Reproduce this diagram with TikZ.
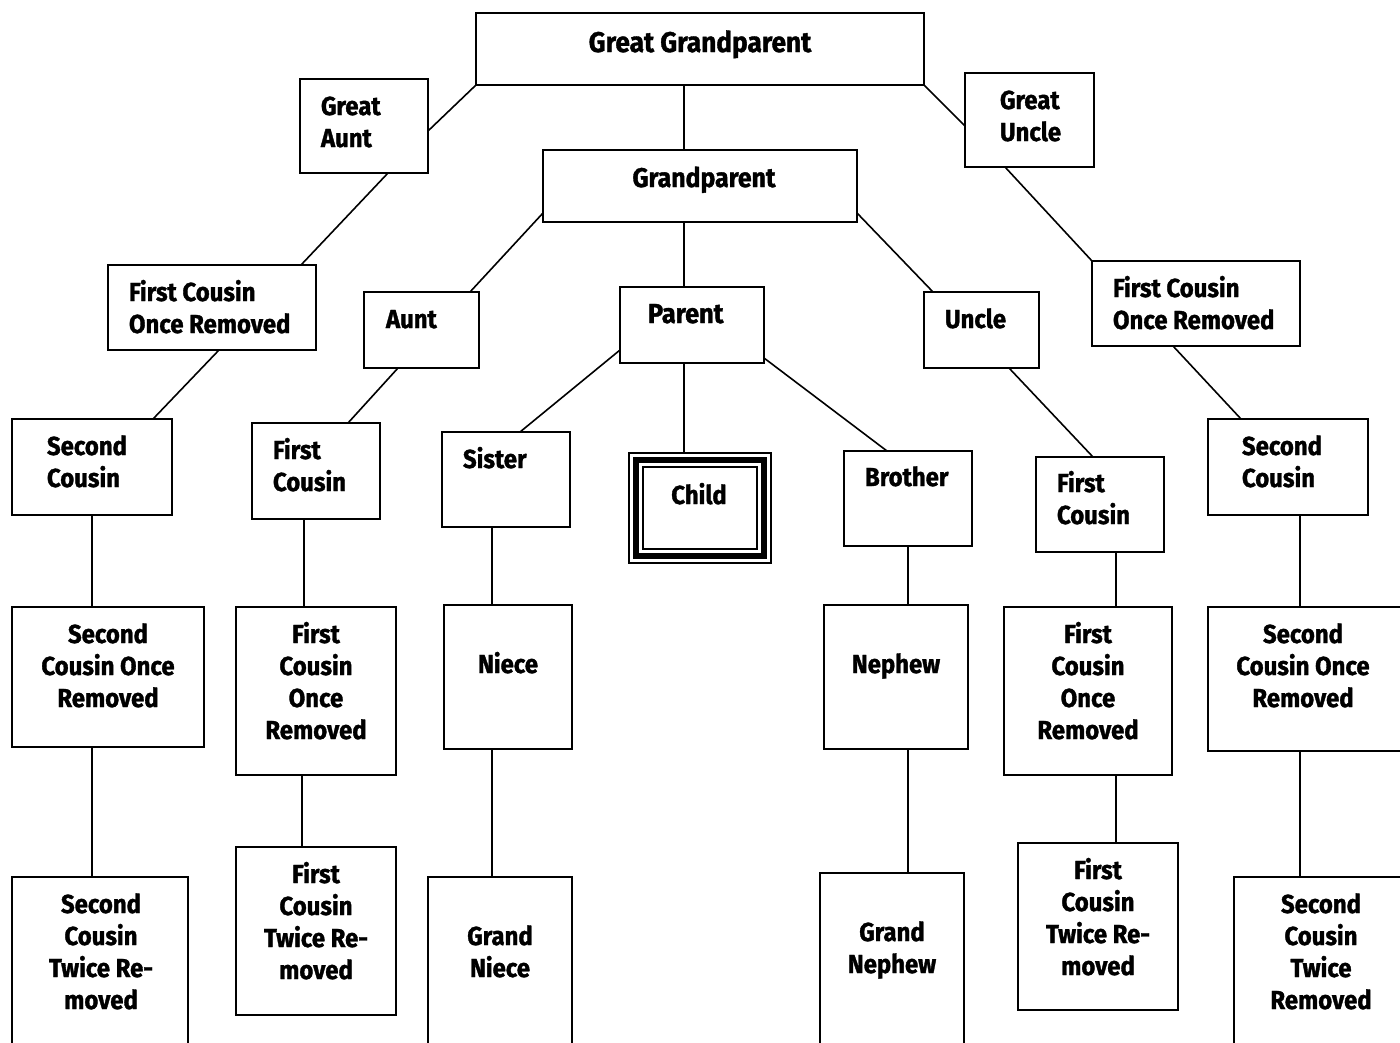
\documentclass[tikz,border=0pt]{standalone}
\usepackage{fontspec}
\setmainfont{Fira Sans}[FakeStretch=0.92, BoldFeatures={FakeBold=1.3}]
\usetikzlibrary{calc}
\newcommand\mytc[1]{\begin{tabular}[t]{@{}c@{}}#1\end{tabular}}
\newcommand\mytl[1]{\begin{tabular}[t]{@{}l@{}}#1\end{tabular}}
\tikzset{
  boxline/.style={line width=2pt},
  conn/.style={line width=1.6pt},
  txt/.style={font=\bfseries\fontsize{26}{32}\selectfont, inner sep=0pt, outer sep=0pt},
  ctxt/.style={txt, anchor=base},
  ltxt/.style={txt, anchor=base west},
}
% box: name, left, top, right, bottom
\newcommand\mybox[5]{\node[boxline, draw, rectangle, anchor=north west, inner sep=0pt, outer sep=0pt,
  minimum width={(#4-#2)*1pt}, minimum height={(#5-#3)*1pt}] (#1) at (#2,#3) {};}
\begin{document}
\begin{tikzpicture}[x=1pt,y=-1pt]
\fill[white] (0,0) rectangle (1400,1042);
\clip (0,0) rectangle (1400,1042);
% boxes
\mybox{gg}{476}{13}{924}{85}
\mybox{ga}{300}{79}{428}{173}
\mybox{gu}{965}{73}{1094}{167}
\mybox{gp}{543}{150}{857}{222}
\mybox{fcl}{108}{265}{316}{350}
\mybox{aunt}{364}{292}{479}{368}
\mybox{par}{620}{287}{764}{363}
\mybox{unc}{924}{292}{1039}{368}
\mybox{fcr}{1092}{261}{1300}{346}
\mybox{scl}{12}{419}{172}{515}
\mybox{fcL}{252}{423}{380}{519}
\mybox{sis}{442}{432}{570}{527}
\mybox{bro}{844}{451}{972}{546}
\mybox{fcR}{1036}{457}{1164}{552}
\mybox{scr}{1208}{419}{1368}{515}
\mybox{scol}{12}{607}{204}{747}
\mybox{fcol}{236}{607}{396}{775}
\mybox{niece}{444}{605}{572}{749}
\mybox{nephew}{824}{605}{968}{749}
\mybox{fcor}{1004}{607}{1172}{775}
\mybox{scor}{1208}{607}{1412}{751}
\mybox{sctl}{12}{877}{188}{1060}
\mybox{fctl}{236}{847}{396}{1015}
\mybox{gniece}{428}{877}{572}{1060}
\mybox{gnephew}{820}{873}{964}{1060}
\mybox{fctr}{1018}{843}{1178}{1010}
\mybox{sctr}{1234}{877}{1412}{1060}
% child: triple frame
\node[draw, line width=1.6pt, anchor=north west, inner sep=0pt, outer sep=0pt, minimum width=142pt, minimum height=110pt] (child) at (629,453) {};
\draw[line width=6pt] (636,460) rectangle (764,556);
\draw[line width=2pt] (643,467) rectangle (757,549);
% texts
\node[ctxt, font=\bfseries\fontsize{28.5}{32}\selectfont] (t-gg) at (700,52) {\mytc{Great Grandparent}};
\node[ltxt] (t-ga) at (321,115) {\mytl{Great\\Aunt}};
\node[ltxt] (t-gu) at (1000,109) {\mytl{Great\\Uncle}};
\node[ctxt, font=\bfseries\fontsize{27}{32}\selectfont] (t-gp) at (704,187) {\mytc{Grandparent}};
\node[ltxt] (t-fcl) at (129,301) {\mytl{First Cousin\\Once Removed}};
\node[ltxt] (t-aunt) at (386,328) {Aunt};
\node[ltxt, font=\bfseries\fontsize{27.5}{32}\selectfont] (t-par) at (648,323) {Parent};
\node[ltxt] (t-unc) at (945,328) {Uncle};
\node[ltxt] (t-fcr) at (1113,297) {\mytl{First Cousin\\Once Removed}};
\node[ltxt] (t-scl) at (47,455) {\mytl{Second\\Cousin}};
\node[ltxt] (t-fcL) at (273,459) {\mytl{First\\Cousin}};
\node[ltxt] (t-sis) at (463,468) {Sister};
\node[ctxt] (t-child) at (699,504) {Child};
\node[ltxt] (t-bro) at (865,486) {Brother};
\node[ltxt] (t-fcR) at (1057,492) {\mytl{First\\Cousin}};
\node[ltxt] (t-scr) at (1242,455) {\mytl{Second\\Cousin}};
\node[ctxt] (t-scol) at (108,643) {\mytc{Second\\Cousin Once\\Removed}};
\node[ctxt] (t-fcol) at (316,643) {\mytc{First\\Cousin\\Once\\Removed}};
\node[ctxt] (t-niece) at (508,673) {Niece};
\node[ctxt] (t-nephew) at (896,673) {Nephew};
\node[ctxt] (t-fcor) at (1088,643) {\mytc{First\\Cousin\\Once\\Removed}};
\node[ctxt] (t-scor) at (1303,643) {\mytc{Second\\Cousin Once\\Removed}};
\node[ctxt] (t-sctl) at (101,913) {\mytc{Second\\Cousin\\Twice Re-\\moved}};
\node[ctxt] (t-fctl) at (316,883) {\mytc{First\\Cousin\\Twice Re-\\moved}};
\node[ctxt] (t-gniece) at (500,945) {\mytc{Grand\\Niece}};
\node[ctxt] (t-gnephew) at (892,941) {\mytc{Grand\\Nephew}};
\node[ctxt] (t-fctr) at (1098,879) {\mytc{First\\Cousin\\Twice Re-\\moved}};
\node[ctxt] (t-sctr) at (1321,913) {\mytc{Second\\Cousin\\Twice\\Removed}};
% diagonal connectors
\draw[conn] (gg.south west) -- ($(ga.north east)+(0,52)$);
\draw[conn] ($(ga.south west)+(88,0)$) -- ($(fcl.north west)+(193,0)$);
\draw[conn] (gg.south east) -- ($(gu.north west)+(0,53)$);
\draw[conn] ($(gu.south west)+(40,0)$) -- (fcr.north west);
\draw[conn] ($(gg.south west)+(208,0)$) -- ($(gp.north west)+(141,0)$);
\draw[conn] ($(gp.north west)+(0,63)$) -- ($(aunt.north west)+(106,0)$);
\draw[conn] ($(gp.south west)+(141,0)$) -- ($(par.north west)+(64,0)$);
\draw[conn] ($(gp.north east)+(0,63)$) -- ($(unc.north west)+(9,0)$);
\draw[conn] ($(fcl.south west)+(111,0)$) -- ($(scl.north west)+(141,0)$);
\draw[conn] ($(aunt.south west)+(34,0)$) -- ($(fcL.north west)+(96,0)$);
\draw[conn] ($(par.north west)+(0,63)$) -- ($(sis.north west)+(78,0)$);
\draw[conn] ($(par.south west)+(64,0)$) -- ($(child.north west)+(55,0)$);
\draw[conn] ($(par.north east)+(0,71)$) -- ($(bro.north west)+(43,0)$);
\draw[conn] ($(unc.south west)+(85,0)$) -- ($(fcR.north west)+(57,0)$);
\draw[conn] ($(fcr.south west)+(81,0)$) -- ($(scr.north west)+(33,0)$);
% vertical connectors
\draw[conn] (scl.south -| 92,0) -- (scol.north -| 92,0);
\draw[conn] (scol.south -| 92,0) -- (sctl.north -| 92,0);
\draw[conn] (fcL.south -| 304,0) -- (fcol.north -| 304,0);
\draw[conn] (fcol.south -| 302,0) -- (fctl.north -| 302,0);
\draw[conn] (sis.south -| 492,0) -- (niece.north -| 492,0);
\draw[conn] (niece.south -| 492,0) -- (gniece.north -| 492,0);
\draw[conn] (bro.south -| 908,0) -- (nephew.north -| 908,0);
\draw[conn] (nephew.south -| 908,0) -- (gnephew.north -| 908,0);
\draw[conn] (fcR.south -| 1116,0) -- (fcor.north -| 1116,0);
\draw[conn] (fcor.south -| 1116,0) -- (fctr.north -| 1116,0);
\draw[conn] (scr.south -| 1300,0) -- (scor.north -| 1300,0);
\draw[conn] (scor.south -| 1300,0) -- (sctr.north -| 1300,0);
\end{tikzpicture}
\end{document}
